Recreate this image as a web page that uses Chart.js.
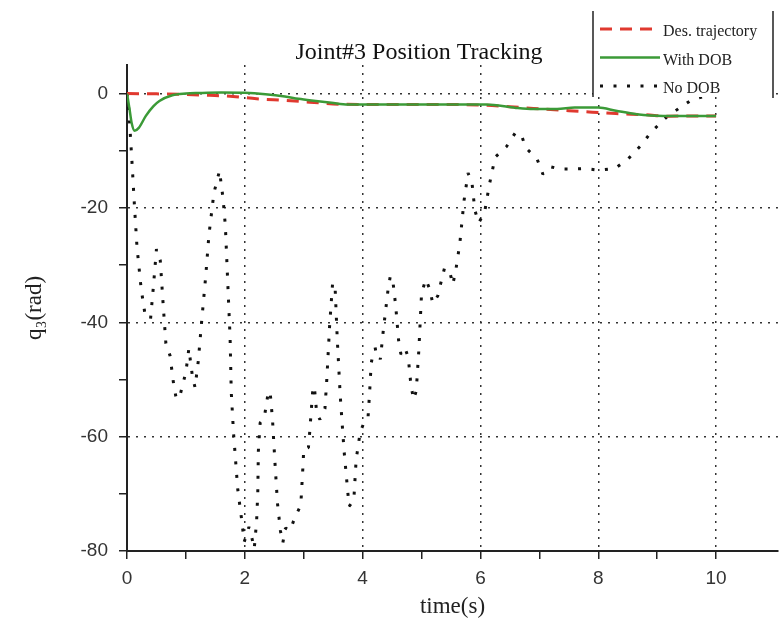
<!DOCTYPE html>
<html>
<head>
<meta charset="utf-8">
<script src="https://cdn.jsdelivr.net/npm/chart.js@4/dist/chart.umd.min.js"></script>
<style>
  html, body { margin: 0; padding: 0; background: #fff; }
  canvas { display: block; }
</style>
</head>
<body>
<canvas id="chart" width="783" height="628"></canvas>
<script>
const titleText = "Joint#3 Position Tracking";
const xTitle = "time(s)";
const yTitle = "q\u2083(rad)";
const seriesNames = ["Des. trajectory", "With DOB", "No DOB"];

const xTicks = [0, 2, 4, 6, 8, 10];
const yTicks = [-80, -60, -40, -20, 0];

// desired trajectory
const desTime = [0, 0.5, 1.0, 1.4, 1.8, 2.2, 2.7, 3.1, 3.6, 4.0, 5.0, 6.0, 6.5, 6.9, 7.5, 7.9, 8.3, 8.8, 9.2, 9.6, 10];
const desPos = [0, -0.05, -0.15, -0.3, -0.5, -0.9, -1.2, -1.5, -1.85, -1.9, -1.9, -2.0, -2.3, -2.6, -3.0, -3.25, -3.5, -3.7, -3.95, -3.9, -3.9];

// with disturbance observer
const dobTime = [0, 0.04, 0.08, 0.13, 0.2, 0.32, 0.45, 0.55, 0.77, 1.0, 1.22, 1.6, 2.0, 2.35, 2.68, 2.91, 3.13, 3.47, 3.75, 4.5, 5.4, 6.1, 6.6, 6.9, 7.3, 7.6, 8.0, 8.3, 8.65, 9.1, 9.5, 10];
const dobPos = [0, -2.5, -5.2, -6.5, -6.0, -3.9, -2.2, -1.3, -0.3, 0.0, 0.1, 0.2, 0.15, -0.1, -0.5, -0.9, -1.2, -1.6, -1.9, -1.9, -1.9, -1.9, -2.5, -2.7, -2.7, -2.45, -2.45, -3.0, -3.6, -3.9, -3.9, -3.9];

// without disturbance observer
const noDobTime = [
  0, 0.03, 0.087, 0.127, 0.17, 0.24, 0.31, 0.40, 0.45, 0.50, 0.565, 0.61, 0.66, 0.73, 0.79, 0.83, 0.885,
  1.0, 1.05, 1.11, 1.155, 1.21, 1.27, 1.335, 1.39, 1.475, 1.57, 1.63, 1.67, 1.71, 1.75, 1.77, 1.81, 1.88, 1.94, 1.99,
  2.07, 2.12, 2.16, 2.2, 2.22, 2.23, 2.26, 2.33, 2.40, 2.43, 2.47, 2.51, 2.555, 2.605, 2.645, 2.69, 2.77, 2.85, 2.95, 2.99,
  3.0, 3.08, 3.1, 3.15, 3.18, 3.22, 3.275, 3.36, 3.39, 3.44, 3.49, 3.53, 3.57, 3.62, 3.685, 3.77, 3.85, 3.89, 3.96,
  4.01, 4.09, 4.12, 4.145, 4.19, 4.25, 4.3, 4.35, 4.43, 4.47, 4.52, 4.56, 4.61, 4.65, 4.72, 4.775, 4.82, 4.865, 4.91, 4.955,
  5.0, 5.07, 5.14, 5.19, 5.275, 5.33, 5.39, 5.48, 5.53, 5.58, 5.65, 5.72, 5.79, 5.855, 5.905, 5.97,
  6.07, 6.15, 6.25, 6.44, 6.59, 6.69, 6.77, 6.96, 7.06, 7.19, 7.35, 7.52, 7.77, 8.0, 8.28, 8.5, 8.73, 8.9,
  9.15, 9.38, 9.6, 10
];
const noDobPos = [
  0, -2.7, -12.4, -19.7, -26.9, -34.1, -38.9, -39.4, -33.5, -27.2, -29.2, -36.3, -43.7, -45.8, -50.7, -53, -53.4,
  -48.7, -44.6, -49.4, -51.4, -46.8, -39.5, -32.1, -24.8, -17.4, -13.5, -18.3, -23.2, -33, -42.7, -52.3, -59.6, -69.2, -74, -78.4,
  -75.8, -77.7, -79.6, -74.8, -69.8, -62.5, -57.6, -56.7, -52.1, -52.2, -57, -64.3, -71.7, -76.5, -78.6, -76, -76.4, -74.1, -72, -64.6,
  -62.1, -61.9, -59.4, -52.3, -51.2, -55.9, -57, -55.1, -50.3, -40.5, -33.2, -33.3, -43.1, -52.9, -62.5, -72.2, -71.1, -64, -59.1,
  -57.9, -56.9, -52, -47.2, -44.7, -44.6, -46.5, -41.5, -34.4, -31.9, -33.4, -37, -43.1, -45.6, -44.5, -46.2, -51, -53.5, -52, -44.7,
  -35, -32.5, -34.2, -36.7, -35.4, -33, -30.5, -31.2, -33.4, -31, -26.2, -18.8, -13.9, -15.5, -20.4, -22.6,
  -20.8, -16, -11.1, -9.3, -6.9, -7.1, -9.5, -11.4, -14.1, -12.8, -13.2, -13.2, -13.1, -13.4, -13.1, -11.5, -9, -6.7,
  -4.2, -2.5, -1.0, 0
];

const toPoints = (xs, ys) => xs.map((x, i) => ({x, y: ys[i]}));

const serif = "'Liberation Serif', 'Times New Roman', serif";
const sans = "'Liberation Sans', Arial, sans-serif";

// title and boxed legend drawn over the plot
const overlay = {
  id: "overlay",
  afterDraw(chart) {
    const ctx = chart.ctx;
    ctx.save();
    ctx.fillStyle = "#111";
    ctx.font = "24px " + serif;
    ctx.textAlign = "center";
    ctx.textBaseline = "middle";
    ctx.fillText(titleText, 419, 53);

    ctx.fillStyle = "#fff";
    ctx.fillRect(593, 0, 180, 97);
    ctx.strokeStyle = "#222";
    ctx.lineWidth = 1.5;
    ctx.beginPath();
    ctx.moveTo(593, 11); ctx.lineTo(593, 97);
    ctx.moveTo(773, 11); ctx.lineTo(773, 98);
    ctx.stroke();

    chart.data.datasets.forEach((ds, i) => {
      const y = 29 + i * 28.5;
      ctx.strokeStyle = ds.borderColor;
      ctx.lineWidth = ds.borderWidth;
      ctx.setLineDash(ds.borderDash || []);
      ctx.beginPath();
      ctx.moveTo(600, y);
      ctx.lineTo(660, y);
      ctx.stroke();
      ctx.setLineDash([]);
      ctx.fillStyle = "#222";
      ctx.font = "16px " + serif;
      ctx.textAlign = "left";
      ctx.fillText(ds.label, 663, y + 3);
    });
    ctx.restore();
  }
};

new Chart(document.getElementById("chart"), {
  type: "line",
  data: {
    datasets: [
      {label: seriesNames[0], data: toPoints(desTime, desPos), borderColor: "#e0392f", borderWidth: 3,
        borderDash: [12, 8], pointRadius: 0, cubicInterpolationMode: "monotone", order: 1},
      {label: seriesNames[1], data: toPoints(dobTime, dobPos), borderColor: "#3b9a37", borderWidth: 2.5,
        pointRadius: 0, cubicInterpolationMode: "monotone", order: 0},
      {label: seriesNames[2], data: toPoints(noDobTime, noDobPos), borderColor: "#111", borderWidth: 3,
        borderDash: [3, 10.5], borderJoinStyle: "bevel", pointRadius: 0, tension: 0, order: 2}
    ]
  },
  options: {
    responsive: false,
    animation: false,
    devicePixelRatio: 1,
    layout: {padding: {top: 65, right: 0, left: 0, bottom: 0}},
    plugins: {legend: {display: false}, title: {display: false}, tooltip: {enabled: false}},
    scales: {
      x: {
        type: "linear", min: 0, max: 11.05,
        ticks: {
          stepSize: 1, includeBounds: false, autoSkip: false, maxRotation: 0, padding: 8,
          color: "#333", font: {family: sans, size: 19},
          callback: v => xTicks.includes(v) ? v : ""
        },
        grid: {
          color: c => c.tick && xTicks.includes(c.tick.value) && c.tick.value !== 0 ? "#333" : "transparent",
          lineWidth: 1.5,
          tickColor: c => c.tick && c.tick.value <= 10 ? "#222" : "transparent",
          tickLength: 8, tickWidth: 1.5
        },
        border: {color: "#222", width: 2, dash: [2, 6]},
        title: {display: true, text: xTitle, color: "#222", font: {family: serif, size: 23}, padding: {top: 0, bottom: 7}},
        afterFit: s => { s.height = 77; }
      },
      y: {
        min: -80, max: 5,
        ticks: {
          stepSize: 10, includeBounds: false, padding: 11,
          color: "#333", font: {family: sans, size: 19},
          callback: v => yTicks.includes(v) ? v : ""
        },
        grid: {
          color: c => c.tick && yTicks.includes(c.tick.value) && c.tick.value !== -80 ? "#333" : "transparent",
          lineWidth: 1.5,
          tickColor: "#222",
          tickLength: 8, tickWidth: 1.5
        },
        border: {color: "#222", width: 2, dash: [2, 6]},
        title: {display: true, text: yTitle, color: "#222", font: {family: serif, size: 23}, padding: {top: 21, bottom: 0}},
        afterFit: s => { s.width = 127; }
      }
    }
  },
  plugins: [overlay]
});
</script>
</body>
</html>
